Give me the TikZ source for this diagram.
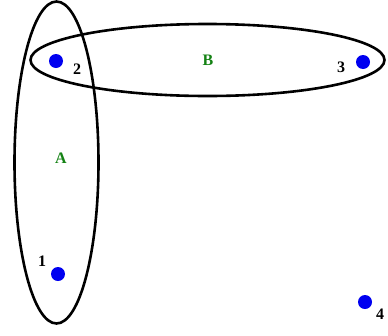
\documentclass[tikz,border=0pt]{standalone}
\usepackage{fontspec}
\setmainfont{Liberation Serif}
\definecolor{setgreen}{RGB}{20,130,20}
\definecolor{dotblue}{RGB}{0,0,240}
\begin{document}
\begin{tikzpicture}[x=1pt,y=-1pt,
  setline/.style={line width=2.6pt,black},
  vtx/.style={circle,fill=dotblue,inner sep=0pt,minimum size=14pt},
  num/.style={font=\bfseries\fontsize{16}{16}\selectfont},
  setlbl/.style={font=\bfseries\fontsize{16}{16}\selectfont,text=setgreen}]
\useasboundingbox (0,0) rectangle (388,335);
\draw[setline] (56.5,162.5) ellipse [x radius=42, y radius=161];
\draw[setline] (207.5,60) ellipse [x radius=177, y radius=36];
\node[vtx] (v2) at (56,61) {};
\node[vtx] (v3) at (363,62) {};
\node[vtx] (v1) at (58,274) {};
\node[vtx] (v4) at (365,302) {};
\node[num] (l2) at (77,69) {2};
\node[num] (l1) at (42,261) {1};
\node[num] (l3) at (341,67) {3};
\node[num] (l4) at (380,314) {4};
\node[setlbl] (la) at (61,158) {A};
\node[setlbl] (lb) at (208,60) {B};
\end{tikzpicture}
\end{document}
